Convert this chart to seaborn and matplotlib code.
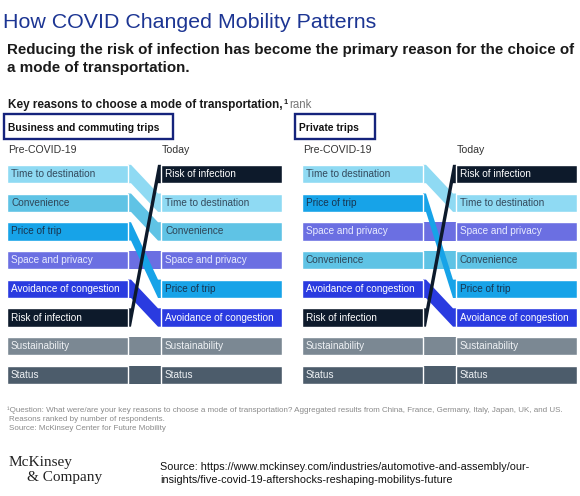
import matplotlib
matplotlib.use("Agg")
import matplotlib.pyplot as plt
from matplotlib.patches import Rectangle
import pandas as pd
import seaborn as sns

# ---------------------------------------------------------
# DATA (ranks, 1 = most important)
# ---------------------------------------------------------
REASONS = ["Time to destination", "Convenience", "Price of trip", "Space and privacy",
           "Avoidance of congestion", "Risk of infection", "Sustainability", "Status"]

BUSINESS_PRE = [1, 2, 3, 4, 5, 6, 7, 8]
BUSINESS_TODAY = [2, 3, 5, 4, 6, 1, 7, 8]

PRIVATE_PRE = [1, 4, 2, 3, 5, 6, 7, 8]
PRIVATE_TODAY = [2, 4, 5, 3, 6, 1, 7, 8]

PANEL_TITLES = ["Business and commuting trips", "Private trips"]
COLUMN_TITLES = ["Pre-COVID-19", "Today"]

COLORS = {
    "Time to destination": "#8fdaf3",
    "Convenience": "#5fc3e5",
    "Price of trip": "#17a3e8",
    "Space and privacy": "#6b6fe2",
    "Avoidance of congestion": "#2a3be0",
    "Risk of infection": "#0d1a2b",
    "Sustainability": "#7b8893",
    "Status": "#4c5c6b",
}
TEXT_COLORS = {
    "Time to destination": "#33495c",
    "Convenience": "#2f4658",
    "Price of trip": "#183550",
    "Space and privacy": "#e8ebff",
    "Avoidance of congestion": "#ffffff",
    "Risk of infection": "#ffffff",
    "Sustainability": "#eef1f4",
    "Status": "#eef1f4",
}

# ---------------------------------------------------------
# Layout helpers (pixels on a 580x496 canvas)
# ---------------------------------------------------------
W, H = 580, 496
COL_W, GAP = 121, 33
BAR_H = 0.64
LEAD = 3


def fx(px):
    return px / W


def fy(py):
    return 1 - py / H


sns.set_theme(style="white")
plt.rcParams["font.family"] = ["Liberation Sans", "DejaVu Sans"]

fig = plt.figure(figsize=(W / 100, H / 100), dpi=100)

# ---- Header texts ----
fig.text(fx(3), fy(28), "How COVID Changed Mobility Patterns", fontsize=15.4,
         color="#1c3593", va="baseline")
fig.text(fx(7), fy(54), "Reducing the risk of infection has become the primary reason for the choice of",
         fontsize=10.9, fontweight="bold", color="#1a1a1a", va="baseline")
fig.text(fx(7), fy(72), "a mode of transportation.",
         fontsize=10.9, fontweight="bold", color="#1a1a1a", va="baseline")

key = fig.text(fx(8), fy(108), "Key reasons to choose a mode of transportation,",
               fontsize=8.5, fontweight="bold", color="#1a1a1a", va="baseline")
renderer = fig.canvas.get_renderer()
kb = key.get_window_extent(renderer)
sup = fig.text(kb.x1 / W + fx(0.5), fy(104), "1", fontsize=5.2, fontweight="bold",
               color="#1a1a1a", va="baseline")
sb = sup.get_window_extent(renderer)
fig.text(sb.x1 / W + fx(1.5), fy(108), "rank", fontsize=8.3, color="#777777", va="baseline")

# ---- Panels ----
panels = [
    (7, BUSINESS_PRE, BUSINESS_TODAY, (4, 173)),
    (302, PRIVATE_PRE, PRIVATE_TODAY, (295, 375)),
]

for (left_px, pre, today, box), ptitle in zip(panels, PANEL_TITLES):
    # panel header box
    fig.patches.append(Rectangle((fx(box[0]), fy(139)), fx(box[1] - box[0]), 25 / H,
                                 transform=fig.transFigure, fill=False,
                                 edgecolor="#15237c", linewidth=1.7))
    fig.text(fx(box[0] + 4), fy(131), ptitle, fontsize=7.4, fontweight="bold",
             color="#111111", va="baseline")
    fig.text(fx(left_px + 1), fy(153), COLUMN_TITLES[0], fontsize=7.6,
             color="#333333", va="baseline")
    fig.text(fx(left_px + COL_W + GAP + 1), fy(153), COLUMN_TITLES[1], fontsize=7.6,
             color="#333333", va="baseline")

    total = 2 * COL_W + GAP
    top_px = 174 - 14.35
    bot_px = 174 + 7 * 28.7 + 14.35
    ax = fig.add_axes([fx(left_px), fy(bot_px), fx(total), (bot_px - top_px) / H])

    df_pre = pd.DataFrame({"reason": REASONS, "rank": pre, "w": COL_W})
    sns.barplot(data=df_pre, x="w", y="rank", hue="reason", palette=COLORS,
                orient="h", native_scale=True, dodge=False, width=BAR_H,
                saturation=1, errorbar=None, legend=False, ax=ax,
                edgecolor="white", linewidth=1, zorder=3)
    ax.barh(today, COL_W, left=COL_W + GAP, height=BAR_H,
            color=[COLORS[r] for r in REASONS], edgecolor="white",
            linewidth=1, zorder=3)

    # ribbons: unchanged ranks first, moved ones over them, risk on top
    def order(i):
        if REASONS[i] == "Risk of infection":
            return 2
        return 0 if pre[i] == today[i] else 1

    for i in sorted(range(len(REASONS)), key=order):
        r0, r1 = pre[i], today[i]
        h = BAR_H / 2
        x0, x1 = COL_W, COL_W + GAP
        xs = [x0, x0 + LEAD, x1 - LEAD, x1, x1, x1 - LEAD, x0 + LEAD, x0]
        ys = [r0 - h, r0 - h, r1 - h, r1 - h, r1 + h, r1 + h, r0 + h, r0 + h]
        ax.fill(xs, ys, color=COLORS[REASONS[i]], lw=0, zorder=1 + order(i) * 0.3)

    for reason, r0, r1 in zip(REASONS, pre, today):
        ax.text(4, r0, reason, va="center", ha="left", fontsize=7.2,
                color=TEXT_COLORS[reason], zorder=5)
        ax.text(COL_W + GAP + 4, r1, reason, va="center", ha="left", fontsize=7.2,
                color=TEXT_COLORS[reason], zorder=5)

    ax.set_xlim(0, total)
    ax.set_ylim(8.5, 0.5)
    ax.axis("off")

# ---- Footnotes ----
foot = [
    (7, 412, "\u00b9Question: What were/are your key reasons to choose a mode of transportation? "
             "Aggregated results from China, France, Germany, Italy, Japan, UK, and US."),
    (9, 421, "Reasons ranked by number of respondents."),
    (9, 430, "Source: McKinsey Center for Future Mobility"),
]
for x, y, t in foot:
    fig.text(fx(x), fy(y), t, fontsize=5.75, color="#8a8a8a", va="baseline")

fig.text(fx(9), fy(466), "McKinsey", fontsize=11, family="Liberation Serif",
         color="#222222", va="baseline")
fig.text(fx(27), fy(481), "& Company", fontsize=11, family="Liberation Serif",
         color="#222222", va="baseline")

fig.text(fx(160), fy(470), "Source: https://www.mckinsey.com/industries/automotive-and-assembly/our-",
         fontsize=7.8, color="#111111", va="baseline")
fig.text(fx(160), fy(483), "insights/five-covid-19-aftershocks-reshaping-mobilitys-future",
         fontsize=7.8, color="#111111", va="baseline")

fig.savefig("out.png", dpi=100)
